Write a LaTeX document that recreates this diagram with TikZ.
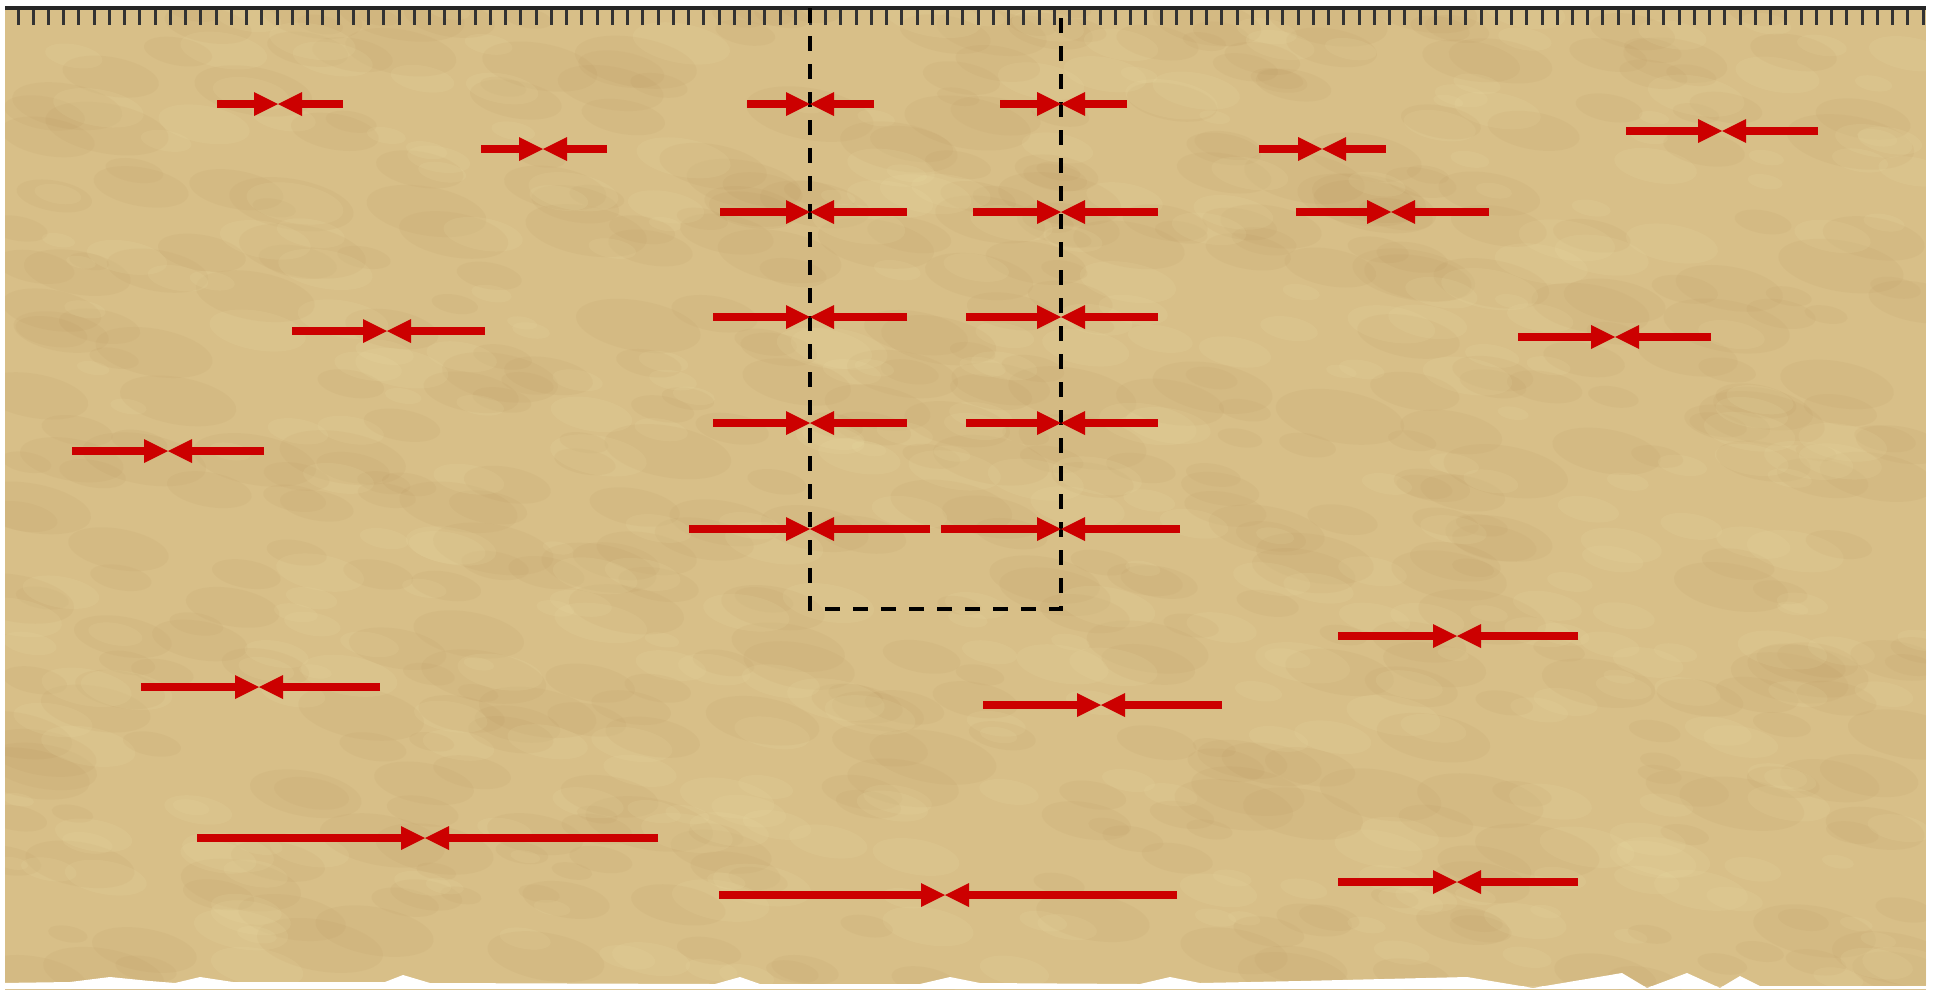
\documentclass[tikz,border=0pt]{standalone}
\usepackage{tikz}
\usetikzlibrary{arrows.meta}
\definecolor{parchment}{RGB}{216,191,136}
\definecolor{parchmentdark}{RGB}{176,136,82}
\definecolor{parchmentlight}{RGB}{238,226,170}
\definecolor{pushred}{RGB}{204,0,0}

\begin{document}
\begin{tikzpicture}[x=1pt, y=-1pt,
    push/.style={-{Triangle[length=24pt,width=24pt,line width=0pt]}, line width=8pt, draw=pushred},
    rulerline/.style={line width=3.5pt, draw=black!85},
    tick/.style={line width=3pt, draw=black!80},
    guide/.style={line width=3.5pt, dash pattern=on 15pt off 13pt}
]
\useasboundingbox (0,0) rectangle (1934,989);

% Sheet
\path[fill=parchment] (5,8) rectangle (1926,990);
\begin{scope}
  \clip (5,8) rectangle (1926,990);
  \pgfmathsetseed{11}
  \foreach \k in {1,...,520}{
    \pgfmathsetmacro{\bx}{5+1920*rnd}
    \pgfmathsetmacro{\by}{8+975*rnd}
    \pgfmathsetmacro{\bw}{20+45*rnd}
    \fill[parchmentdark, opacity=0.08] (\bx,\by) ellipse[x radius=\bw, y radius=0.4*\bw, rotate=-10];
  }
  \foreach \k in {1,...,380}{
    \pgfmathsetmacro{\bx}{5+1920*rnd}
    \pgfmathsetmacro{\by}{8+975*rnd}
    \pgfmathsetmacro{\bw}{15+35*rnd}
    \fill[parchmentlight, opacity=0.12] (\bx,\by) ellipse[x radius=\bw, y radius=0.4*\bw, rotate=-10];
  }
\end{scope}
% torn lower edge
\fill[white] (0,986) -- (1760,986) -- (1740,976) -- (1720,988) -- (1687,973) -- (1647,988) -- (1622,973)
    -- (1533,988) -- (1467,977) -- (1300,981) -- (1200,983) -- (1170,977) -- (1140,984)
    -- (980,983) -- (950,977) -- (920,984) -- (760,984) -- (740,977) -- (715,984)
    -- (430,983) -- (403,975) -- (385,982) -- (233,982) -- (200,977) -- (175,983)
    -- (150,981) -- (110,977) -- (70,982) -- (0,983) -- (0,989) -- (1934,989) -- (1934,986) -- cycle;

% Ruler
\coordinate (rulerW) at (5,8);
\coordinate (rulerE) at (1926,8);
\foreach \t in {0,...,125}
  \draw[tick] (18+15.24*\t,8) -- ++(0,17);
\draw[rulerline] (rulerW) -- (rulerE);

% Dashed strip
\coordinate (stripNW) at (810,8);
\coordinate (stripSW) at (810,609);
\coordinate (stripSE) at (1061,609);
\coordinate (stripNE) at (1061,8);
\draw[guide] (stripNW) -- (stripSW) -- (stripSE) -- (stripNE);

% Meeting points
\coordinate (a1) at (278,104);   \coordinate (a1w) at (217,104);  \coordinate (a1e) at (343,104);
\coordinate (a2) at (543,149);   \coordinate (a2w) at (481,149);  \coordinate (a2e) at (607,149);
\coordinate (a3) at (810,104);   \coordinate (a3w) at (747,104);  \coordinate (a3e) at (874,104);
\coordinate (a4) at (1061,104);  \coordinate (a4w) at (1000,104); \coordinate (a4e) at (1127,104);
\coordinate (a5) at (1322,149);  \coordinate (a5w) at (1259,149); \coordinate (a5e) at (1386,149);
\coordinate (a6) at (1722,131);  \coordinate (a6w) at (1626,131); \coordinate (a6e) at (1818,131);
\coordinate (a7) at (810,212);   \coordinate (a7w) at (720,212);  \coordinate (a7e) at (907,212);
\coordinate (a8) at (1061,212);  \coordinate (a8w) at (973,212);  \coordinate (a8e) at (1158,212);
\coordinate (a9) at (1391,212);  \coordinate (a9w) at (1296,212); \coordinate (a9e) at (1489,212);
\coordinate (a10) at (387,331);  \coordinate (a10w) at (292,331); \coordinate (a10e) at (485,331);
\coordinate (a11) at (810,317);  \coordinate (a11w) at (713,317); \coordinate (a11e) at (907,317);
\coordinate (a12) at (1061,317); \coordinate (a12w) at (966,317); \coordinate (a12e) at (1158,317);
\coordinate (a13) at (1615,337); \coordinate (a13w) at (1518,337); \coordinate (a13e) at (1711,337);
\coordinate (a14) at (168,451);  \coordinate (a14w) at (72,451);  \coordinate (a14e) at (264,451);
\coordinate (a15) at (810,423);  \coordinate (a15w) at (713,423); \coordinate (a15e) at (907,423);
\coordinate (a16) at (1061,423); \coordinate (a16w) at (966,423); \coordinate (a16e) at (1158,423);
\coordinate (a17) at (810,529);  \coordinate (a17w) at (689,529); \coordinate (a17e) at (930,529);
\coordinate (a18) at (1061,529); \coordinate (a18w) at (941,529); \coordinate (a18e) at (1180,529);
\coordinate (a19) at (1457,636); \coordinate (a19w) at (1338,636); \coordinate (a19e) at (1578,636);
\coordinate (a20) at (259,687);  \coordinate (a20w) at (141,687); \coordinate (a20e) at (380,687);
\coordinate (a21) at (1101,705); \coordinate (a21w) at (983,705); \coordinate (a21e) at (1222,705);
\coordinate (a22) at (425,838);  \coordinate (a22w) at (197,838); \coordinate (a22e) at (658,838);
\coordinate (a23) at (945,895);  \coordinate (a23w) at (719,895); \coordinate (a23e) at (1177,895);
\coordinate (a24) at (1457,882); \coordinate (a24w) at (1338,882); \coordinate (a24e) at (1578,882);

% Arrow pairs
\draw[push] (a1w) -- (a1);   \draw[push] (a1e) -- (a1);
\draw[push] (a2w) -- (a2);   \draw[push] (a2e) -- (a2);
\draw[push] (a3w) -- (a3);   \draw[push] (a3e) -- (a3);
\draw[push] (a4w) -- (a4);   \draw[push] (a4e) -- (a4);
\draw[push] (a5w) -- (a5);   \draw[push] (a5e) -- (a5);
\draw[push] (a6w) -- (a6);   \draw[push] (a6e) -- (a6);
\draw[push] (a7w) -- (a7);   \draw[push] (a7e) -- (a7);
\draw[push] (a8w) -- (a8);   \draw[push] (a8e) -- (a8);
\draw[push] (a9w) -- (a9);   \draw[push] (a9e) -- (a9);
\draw[push] (a10w) -- (a10); \draw[push] (a10e) -- (a10);
\draw[push] (a11w) -- (a11); \draw[push] (a11e) -- (a11);
\draw[push] (a12w) -- (a12); \draw[push] (a12e) -- (a12);
\draw[push] (a13w) -- (a13); \draw[push] (a13e) -- (a13);
\draw[push] (a14w) -- (a14); \draw[push] (a14e) -- (a14);
\draw[push] (a15w) -- (a15); \draw[push] (a15e) -- (a15);
\draw[push] (a16w) -- (a16); \draw[push] (a16e) -- (a16);
\draw[push] (a17w) -- (a17); \draw[push] (a17e) -- (a17);
\draw[push] (a18w) -- (a18); \draw[push] (a18e) -- (a18);
\draw[push] (a19w) -- (a19); \draw[push] (a19e) -- (a19);
\draw[push] (a20w) -- (a20); \draw[push] (a20e) -- (a20);
\draw[push] (a21w) -- (a21); \draw[push] (a21e) -- (a21);
\draw[push] (a22w) -- (a22); \draw[push] (a22e) -- (a22);
\draw[push] (a23w) -- (a23); \draw[push] (a23e) -- (a23);
\draw[push] (a24w) -- (a24); \draw[push] (a24e) -- (a24);

\end{tikzpicture}
\end{document}
